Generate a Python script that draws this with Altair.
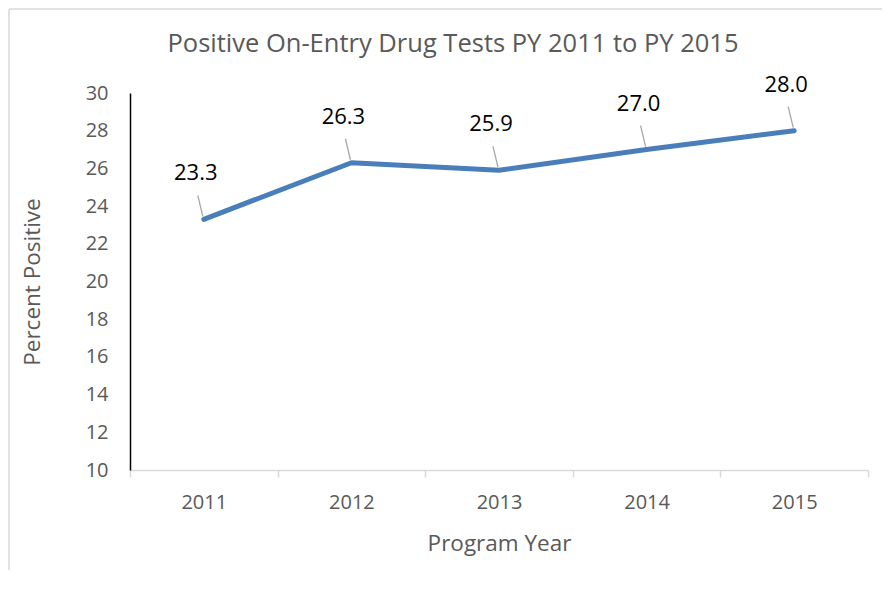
import altair as alt
import pandas as pd

years = [2011, 2012, 2013, 2014, 2015]
values = [23.3, 26.3, 25.9, 27.0, 28.0]
labels = ["23.3", "26.3", "25.9", "27.0", "28.0"]
y_ticks = [10, 12, 14, 16, 18, 20, 22, 24, 26, 28, 30]
x_tick_values = [2010.5, 2011, 2011.5, 2012, 2012.5, 2013, 2013.5, 2014, 2014.5, 2015, 2015.5]

df = pd.DataFrame({"year": years, "value": values, "label": labels})

FONT = "Open Sans"
GRAY = "#595959"

x = alt.X(
    "year:Q",
    scale=alt.Scale(domain=[2010.5, 2015.5], nice=False, zero=False),
    axis=alt.Axis(
        values=x_tick_values,
        labelExpr="datum.value % 1 == 0 ? format(datum.value, 'd') : ''",
        tickOpacity={"condition": {"test": "datum.value % 1 == 0", "value": 0}, "value": 1},
        tickSize=7,
        tickColor="#d9d9d9",
        tickWidth=1.5,
        domainColor="#d9d9d9",
        domainWidth=1.5,
        grid=False,
        labelOverlap=False,
        labelColor=GRAY,
        labelFontSize=20,
        labelFont=FONT,
        labelPadding=15,
        title="Program Year",
        titleFont=FONT,
        titleFontSize=22.5,
        titleFontWeight="normal",
        titleColor=GRAY,
        titlePadding=20,
    ),
)
y = alt.Y(
    "value:Q",
    scale=alt.Scale(domain=[10, 30], nice=False, zero=False),
    axis=alt.Axis(
        values=y_ticks,
        ticks=False,
        grid=False,
        labelOverlap=False,
        labelBound=False,
        domainColor="black",
        domainWidth=1.5,
        labelColor=GRAY,
        labelFontSize=20,
        labelFont=FONT,
        labelPadding=22,
        title="Percent Positive",
        titleFont=FONT,
        titleFontSize=22.5,
        titleFontWeight="normal",
        titleColor=GRAY,
        titlePadding=41,
    ),
)

base = alt.Chart(df)

line = base.mark_line(color="#4a7ebb", strokeWidth=5, strokeCap="round", strokeJoin="round").encode(x=x, y=y)

leaders = base.mark_rule(
    color="#a6a6a6", strokeWidth=1.3, xOffset=-1, yOffset=-3, x2Offset=-6, y2Offset=-24
).encode(x=x, y=y, x2="year:Q", y2="value:Q")

texts = base.mark_text(dx=-8, dy=-46, fontSize=22, font=FONT, color="black").encode(
    x=x, y=y, text="label:N"
)

frame_df = pd.DataFrame({"a": [0]})
left_border = alt.Chart(frame_df).mark_rule(color="#d9d9d9", strokeWidth=1.5).encode(
    x=alt.value(-121), y=alt.value(-84), y2=alt.value(510)
)
top_border = alt.Chart(frame_df).mark_rule(color="#d9d9d9", strokeWidth=1.5).encode(
    x=alt.value(-121), x2=alt.value(760), y=alt.value(-84)
)

chart = (
    alt.layer(line, leaders, texts, left_border, top_border)
    .properties(
        width=738,
        height=377,
        autosize=alt.AutoSizeParams(type="none"),
        padding={"left": 122, "top": 85, "right": 14, "bottom": 100},
        title=alt.TitleParams(
            "Positive On-Entry Drug Tests PY 2011 to PY 2015",
            font=FONT,
            fontSize=25.5,
            fontWeight="normal",
            color=GRAY,
            anchor="middle",
            frame="group",
            dx=-46,
            offset=-49,
        ),
    )
    .configure_view(stroke=None)
)

chart.save("out.html", embed_options={"renderer": "svg", "actions": False})
